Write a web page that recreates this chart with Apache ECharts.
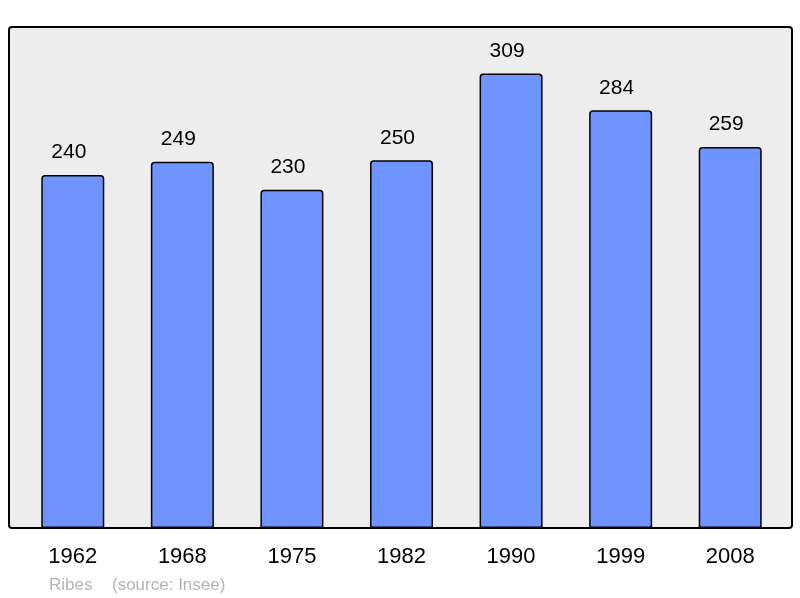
<!DOCTYPE html>
<html>
<head>
<meta charset="utf-8">
<script src="https://cdn.jsdelivr.net/npm/echarts@6/dist/echarts.min.js"></script>
<style>
  html, body { margin: 0; padding: 0; background: #fff; }
  #graphique { width: 800px; height: 598px; }
</style>
</head>
<body>
<div id="graphique"></div>
<script>
const annees = ["1962", "1968", "1975", "1982", "1990", "1999", "2008"];
const population = [240, 249, 230, 250, 309, 284, 259];

const chart = echarts.init(document.getElementById("graphique"));

const option = {
  animation: false,
  textStyle: { fontFamily: "Liberation Sans, Arial, sans-serif" },
  graphic: [
    {
      type: "rect",
      z: -10,
      shape: { x: 9, y: 27, width: 783, height: 501, r: 3 },
      style: { fill: "#ededed", stroke: "#000", lineWidth: 2 }
    },
    {
      type: "text",
      left: 49,
      top: 577,
      style: { text: "Ribes", fill: "#b4b4b4", fontSize: 17, fontFamily: "Liberation Sans, Arial, sans-serif" }
    },
    {
      type: "text",
      left: 112,
      top: 577,
      style: { text: "(source: Insee)", fill: "#b4b4b4", fontSize: 17, fontFamily: "Liberation Sans, Arial, sans-serif" }
    }
  ],
  grid: { left: 18, width: 767, top: 27, bottom: 70 },
  xAxis: {
    type: "category",
    data: annees,
    axisLine: { show: false },
    axisTick: { show: false },
    axisLabel: { color: "#000", fontSize: 22, margin: 18 }
  },
  yAxis: {
    type: "value",
    min: 0,
    max: 340.6,
    show: false,
    splitLine: { show: false }
  },
  series: [
    {
      type: "bar",
      data: population,
      barWidth: 63,
      itemStyle: {
        color: "#7094ff",
        borderColor: "#000",
        borderWidth: 1.5,
        borderRadius: [3, 3, 0, 0]
      },
      label: {
        show: true,
        position: "top",
        distance: 12,
        offset: [-4, 0],
        color: "#000",
        fontSize: 21
      }
    }
  ]
};

option && chart.setOption(option);
</script>
</body>
</html>
